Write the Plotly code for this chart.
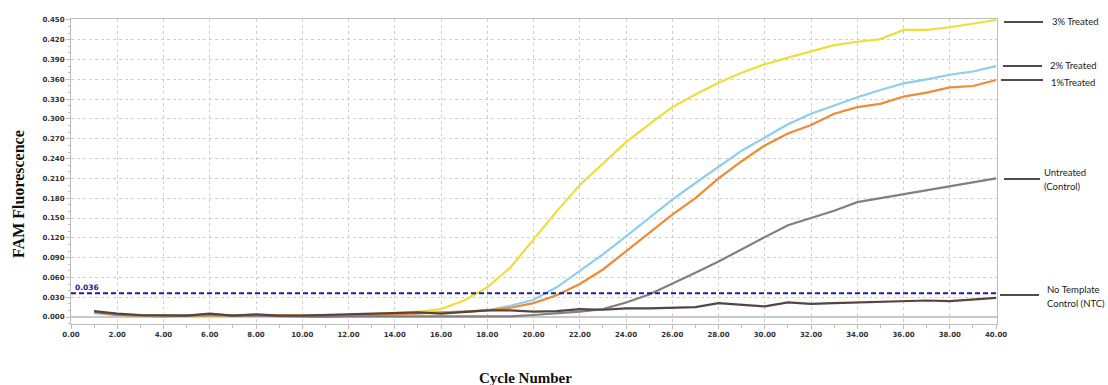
import plotly.graph_objects as go

cycles = list(range(1, 41))

treated_3 = [0.007, 0.003, 0.001, 0.003, 0.001, 0.000, 0.001, 0.001, 0.001, 0.002,
             0.002, 0.003, 0.004, 0.006, 0.008, 0.012, 0.025, 0.045, 0.075, 0.117,
             0.160, 0.200, 0.232, 0.265, 0.292, 0.318, 0.337, 0.355, 0.370, 0.383,
             0.393, 0.403, 0.412, 0.417, 0.421, 0.435, 0.435, 0.439, 0.444, 0.450]
treated_2 = [0.006, 0.003, 0.002, 0.001, 0.002, 0.002, 0.001, 0.002, 0.002, 0.001,
             0.002, 0.002, 0.003, 0.004, 0.005, 0.006, 0.008, 0.010, 0.017, 0.026,
             0.045, 0.070, 0.095, 0.122, 0.150, 0.178, 0.203, 0.228, 0.252, 0.272,
             0.292, 0.308, 0.321, 0.333, 0.344, 0.354, 0.360, 0.367, 0.372, 0.380]
treated_1 = [0.007, 0.003, 0.002, 0.001, 0.002, 0.002, 0.002, 0.003, 0.002, 0.002,
             0.002, 0.003, 0.003, 0.004, 0.006, 0.007, 0.008, 0.010, 0.014, 0.021,
             0.033, 0.050, 0.072, 0.100, 0.128, 0.155, 0.180, 0.210, 0.236, 0.260,
             0.278, 0.291, 0.308, 0.318, 0.323, 0.334, 0.340, 0.348, 0.350, 0.359]
untreated = [0.008, 0.004, 0.002, 0.002, 0.002, 0.004, 0.002, 0.002, 0.001, 0.001,
             0.000, 0.001, 0.001, 0.001, 0.001, 0.001, 0.001, 0.001, 0.001, 0.003,
             0.005, 0.008, 0.012, 0.022, 0.034, 0.050, 0.067, 0.084, 0.103, 0.121,
             0.139, 0.150, 0.161, 0.174, 0.180, 0.187, 0.193, 0.198, 0.204, 0.210]
ntc = [0.009, 0.005, 0.003, 0.002, 0.002, 0.005, 0.002, 0.004, 0.002, 0.002,
       0.003, 0.004, 0.006, 0.007, 0.007, 0.005, 0.007, 0.010, 0.010, 0.008,
       0.009, 0.012, 0.011, 0.013, 0.013, 0.014, 0.015, 0.021, 0.019, 0.016,
       0.022, 0.020, 0.021, 0.022, 0.023, 0.024, 0.025, 0.024, 0.027, 0.029]
threshold = 0.036

series_names = ["3% Treated", "2% Treated", "1%Treated", "Untreated<br>(Control)", "No Template<br>Control (NTC)"]
series_values = [treated_3, treated_2, treated_1, untreated, ntc]
series_colors = ["#EFDD3A", "#8DCDEE", "#F08A33", "#808080", "#55453E"]

x_ticks = [i * 2 for i in range(21)]
x_tick_labels = [f"{v:.2f}" for v in x_ticks]
y_ticks = [i * 0.03 for i in range(16)]
y_tick_labels = [f"{v:.3f}" for v in y_ticks]

W, H = 1108, 385
L, R, T, B = 71, 111, 19, 61
pw, ph = W - L - R, H - T - B


def px2paper_x(px):
    return (px - L) / pw


def px2paper_y(py):
    return (H - B - py) / ph


fig = go.Figure()
for name, vals, col in zip(series_names, series_values, series_colors):
    fig.add_trace(go.Scatter(x=cycles, y=vals, mode="lines", name=name,
                             line=dict(color=col, width=2.2), showlegend=False))

# threshold line
fig.add_shape(type="line", xref="x", yref="y", x0=0, x1=40, y0=threshold, y1=threshold,
              line=dict(color="#1C1C9C", width=2, dash="5px,3px"))
fig.add_annotation(xref="x", yref="y", x=0.1, y=threshold, text=f"{threshold:.3f}",
                   showarrow=False, xanchor="left", yanchor="bottom", yshift=-1,
                   font=dict(family="DejaVu Sans", size=7.5, color="#1C1C9C", weight="bold"))

# right-side labels
label_specs = [
    (1004, 1043, 1051, [22]),
    (1003, 1042, 1049, [65]),
    (1001, 1043, 1050, [82]),
    (1004, 1040, 1043, [173, 186]),
    (1000, 1039, 1046, [289, 303]),
]
line_y_px = [22, 66, 80, 179, 295]
for (lx0, lx1, tx, tys), name, ly in zip(label_specs, series_names, line_y_px):
    fig.add_shape(type="line", xref="paper", yref="paper",
                  x0=px2paper_x(lx0), x1=px2paper_x(lx1),
                  y0=px2paper_y(ly), y1=px2paper_y(ly),
                  line=dict(color="#111111", width=1.3))
    parts = name.split("<br>")
    for part, ty in zip(parts, tys):
        fig.add_annotation(xref="paper", yref="paper", x=px2paper_x(tx), y=px2paper_y(ty),
                           text=part, showarrow=False, xanchor="left", yanchor="middle",
                           borderpad=0,
                           font=dict(family="Lato", size=9.5, color="#1a1a1a"))

# axis titles
fig.add_annotation(xref="paper", yref="paper", x=px2paper_x(18), y=px2paper_y(194),
                   text="<b>FAM Fluorescence</b>", textangle=-90, showarrow=False,
                   xanchor="center", yanchor="middle",
                   font=dict(family="Liberation Serif", size=16, color="#111111"))
fig.add_annotation(xref="paper", yref="paper", x=px2paper_x(525), y=px2paper_y(378),
                   text="<b>Cycle Number</b>", showarrow=False,
                   xanchor="center", yanchor="middle",
                   font=dict(family="Liberation Serif", size=15, color="#111111"))

tickfont = dict(family="DejaVu Sans", size=7, color="#333333", weight="bold")
fig.update_xaxes(range=[0, 40.04], tickmode="array", tickvals=x_ticks, ticktext=x_tick_labels,
                 showgrid=True, gridcolor="#CFCFCF", griddash="dot", gridwidth=1,
                 showline=True, linecolor="#BDBDBD", linewidth=1, mirror=True,
                 ticks="outside", ticklen=4, tickcolor="#BDBDBD",
                 minor=dict(ticks="outside", dtick=1, ticklen=3, tickcolor="#BDBDBD", showgrid=False),
                 tickfont=tickfont, zeroline=False)
fig.update_yaxes(range=[-0.0106, 0.4515], tickmode="array", tickvals=y_ticks, ticktext=y_tick_labels,
                 showgrid=True, gridcolor="#CFCFCF", griddash="dot", gridwidth=1,
                 showline=True, linecolor="#BDBDBD", linewidth=1, mirror=True,
                 ticks="outside", ticklen=4, tickcolor="#BDBDBD",
                 minor=dict(ticks="outside", dtick=0.01, ticklen=2, tickcolor="#BDBDBD", showgrid=False),
                 tickfont=tickfont,
                 zeroline=True, zerolinecolor="#C8C8C8", zerolinewidth=2)

fig.update_layout(width=W, height=H, margin=dict(l=L, r=R, t=T, b=B),
                  plot_bgcolor="white", paper_bgcolor="white", showlegend=False)

fig.write_html("out.html")
